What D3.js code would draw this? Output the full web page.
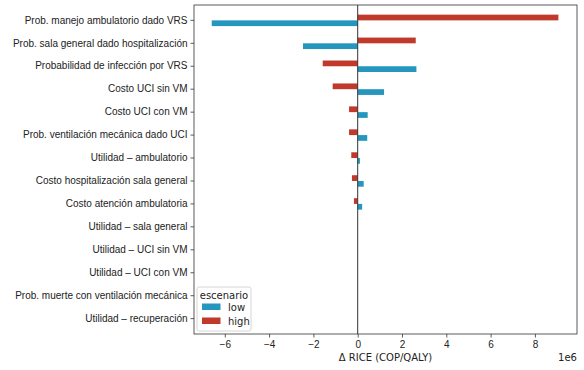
<!DOCTYPE html>
<html>
<head>
<meta charset="utf-8">
<script src="https://cdn.jsdelivr.net/npm/d3@7"></script>
<style>
  body { margin: 0; background: #fff; }
  svg { font-family: "DejaVu Sans", sans-serif; }
</style>
</head>
<body>
<svg id="chart"></svg>
<script>
// tornado data (units of 1e6 COP/QALY)
var categories = [
    "Prob. manejo ambulatorio dado VRS",
    "Prob. sala general dado hospitalización",
    "Probabilidad de infección por VRS",
    "Costo UCI sin VM",
    "Costo UCI con VM",
    "Prob. ventilación mecánica dado UCI",
    "Utilidad – ambulatorio",
    "Costo hospitalización sala general",
    "Costo atención ambulatoria",
    "Utilidad – sala general",
    "Utilidad – UCI sin VM",
    "Utilidad – UCI con VM",
    "Prob. muerte con ventilación mecánica",
    "Utilidad – recuperación"
];
var lowValues  = [-6.59, -2.47, 2.65, 1.19, 0.45, 0.43, 0.10, 0.27, 0.20, 0, 0, 0, 0, 0];
var highValues = [9.06, 2.62, -1.58, -1.13, -0.39, -0.39, -0.29, -0.26, -0.17, 0, 0, 0, 0, 0];
var xTicks = [-6, -4, -2, 0, 2, 4, 6, 8];
var series = ["low", "high"];
var colors = { low: "#2596be", high: "#c0392b" };

var width = 584, height = 370;
var margin = { top: 5, right: 7, bottom: 36, left: 194 };
var fs = "10px";

var svg = d3.select("#chart")
    .attr("width", width)
    .attr("height", height);

var x = d3.scaleLinear()
    .domain([-7.39, 9.9])
    .range([margin.left, width - margin.right]);

var y = d3.scaleBand()
    .domain(categories)
    .range([margin.top + 1.6, height - margin.bottom - 1.6])
    .paddingInner(0)
    .paddingOuter(0.1);

var barH = y.bandwidth() * 0.25;

var rows = categories.map(function(c, i) {
    return { name: c, low: lowValues[i], high: highValues[i] };
});

// bars
var g = svg.append("g");
rows.forEach(function(d) {
    var cy = y(d.name) + y.bandwidth() / 2;
    // high on top, low below
    g.append("rect")
        .attr("x", x(Math.min(0, d.high)))
        .attr("y", cy - barH)
        .attr("width", Math.abs(x(d.high) - x(0)))
        .attr("height", barH)
        .attr("fill", colors.high);
    g.append("rect")
        .attr("x", x(Math.min(0, d.low)))
        .attr("y", cy)
        .attr("width", Math.abs(x(d.low) - x(0)))
        .attr("height", barH)
        .attr("fill", colors.low);
});

// zero line
svg.append("line")
    .attr("x1", x(0)).attr("x2", x(0))
    .attr("y1", margin.top).attr("y2", height - margin.bottom)
    .attr("stroke", "#333").attr("stroke-width", 1);

// axes
var xAxis = svg.append("g")
    .attr("transform", "translate(0," + (height - margin.bottom) + ")")
    .call(d3.axisBottom(x).tickValues(xTicks).tickSize(3.5).tickPadding(3)
        .tickFormat(function(d) { return d < 0 ? "\u2212" + Math.abs(d) : d; }));

var yAxis = svg.append("g")
    .attr("transform", "translate(" + margin.left + ",0)")
    .call(d3.axisLeft(y).tickSize(3.5).tickPadding(3));

[xAxis, yAxis].forEach(function(a) {
    a.select(".domain").remove();
    a.selectAll("line").attr("stroke", "#333").attr("stroke-width", 0.8);
    a.selectAll("text").attr("fill", "#222").style("font-size", fs);
});

// frame
svg.append("rect")
    .attr("x", margin.left).attr("y", margin.top)
    .attr("width", width - margin.left - margin.right)
    .attr("height", height - margin.top - margin.bottom)
    .attr("fill", "none").attr("stroke", "#333").attr("stroke-width", 0.8);

// axis label + offset
svg.append("text")
    .attr("x", (margin.left + width - margin.right) / 2)
    .attr("y", 361)
    .attr("text-anchor", "middle")
    .attr("fill", "#222")
    .style("font-size", fs)
    .text("\u0394 RICE (COP/QALY)");

svg.append("text")
    .attr("x", width - margin.right)
    .attr("y", 361)
    .attr("text-anchor", "end")
    .attr("fill", "#222")
    .style("font-size", fs)
    .text("1e6");

// legend
var leg = svg.append("g").attr("transform", "translate(197,287)");
leg.append("rect")
    .attr("width", 54).attr("height", 44).attr("rx", 2)
    .attr("fill", "#fff").attr("fill-opacity", 0.8)
    .attr("stroke", "#ccc").attr("stroke-width", 0.8);
leg.append("text")
    .attr("x", 27).attr("y", 11.5)
    .attr("text-anchor", "middle")
    .attr("fill", "#222")
    .style("font-size", fs)
    .text("escenario");
series.forEach(function(s, i) {
    leg.append("rect")
        .attr("x", 5).attr("y", 16.5 + i * 14)
        .attr("width", 18.5).attr("height", 6.5)
        .attr("fill", colors[s]);
    leg.append("text")
        .attr("x", 31).attr("y", 23.5 + i * 14)
        .attr("fill", "#222")
        .style("font-size", fs)
        .text(s);
});
</script>
</body>
</html>
